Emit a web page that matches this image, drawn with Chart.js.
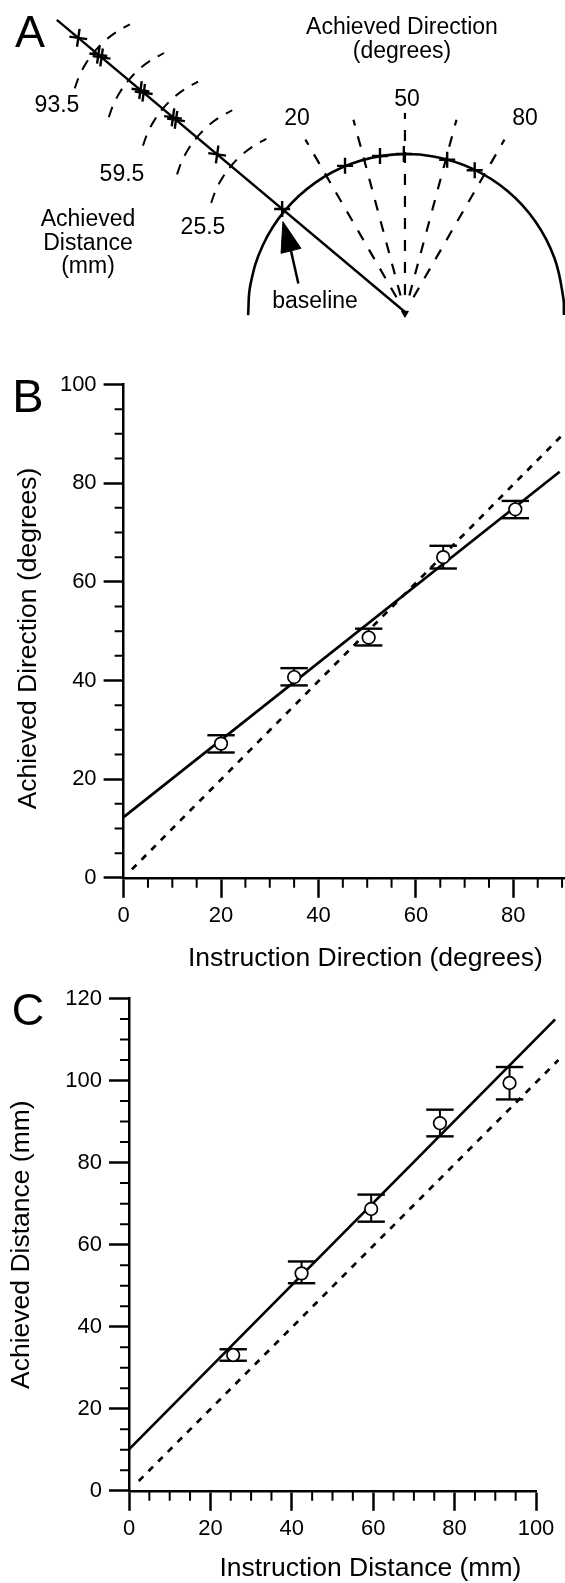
<!DOCTYPE html>
<html lang="en">
<head>
<meta charset="UTF-8">
<title>Achieved direction and distance</title>
<style>
    html, body { margin: 0; padding: 0; background: #fff; }
    body { position: relative; width: 565px; height: 1583px; overflow: hidden; font-family: "Liberation Sans", Arial, sans-serif; color: #000; }
    canvas { position: absolute; left: 0; }
    #chartA { top: 0; }
    #chartB { top: 345px; }
    #chartC { top: 975px; }
    .lab { position: absolute; transform: translate(-50%, -50%); white-space: nowrap; font-size: 23px; line-height: 1; text-align: center; z-index: 2; }
    .panel { font-size: 45px; }
</style>
</head>
<body>
<canvas id="chartA" width="565" height="345"></canvas>
<canvas id="chartB" width="565" height="635"></canvas>
<canvas id="chartC" width="565" height="608"></canvas>

<div class="lab panel" style="left:30px;top:31px">A</div>
<div class="lab panel" style="left:28px;top:395px;font-size:47px">B</div>
<div class="lab panel" style="left:28px;top:1009px">C</div>

<div class="lab" style="left:402px;top:26px">Achieved Direction</div>
<div class="lab" style="left:402px;top:50px">(degrees)</div>
<div class="lab" style="left:297px;top:117px">20</div>
<div class="lab" style="left:407px;top:98px">50</div>
<div class="lab" style="left:525px;top:117px">80</div>
<div class="lab" style="left:57px;top:104px">93.5</div>
<div class="lab" style="left:122px;top:173px">59.5</div>
<div class="lab" style="left:203px;top:226px">25.5</div>
<div class="lab" style="left:88px;top:218px">Achieved</div>
<div class="lab" style="left:88px;top:242px">Distance</div>
<div class="lab" style="left:88px;top:265px">(mm)</div>
<div class="lab" style="left:315px;top:300px">baseline</div>

<script src="https://cdn.jsdelivr.net/npm/chart.js"></script>
<script>
    // Panel B data (degrees)
    const dirInstruction = [20, 35, 50.3, 65.6, 80.4];
    const dirAchieved = [27.2, 40.7, 48.7, 65, 74.7];
    const dirErrHigh = [28.9, 42.5, 50.5, 67.3, 76.4];
    const dirErrLow = [25.4, 39, 47.1, 62.7, 72.9];
    const dirFitX = [0, 89.5];
    const dirFitY = [12.3, 82.3];
    const dirUnityX = [1.7, 89.7];
    const dirUnityY = [1.7, 89.4];
    const dirTicksMinorX = [5, 10, 15, 25, 30, 35, 45, 50, 55, 65, 70, 75, 85, 90];
    const dirTicksMinorY = [5, 10, 15, 25, 30, 35, 45, 50, 55, 65, 70, 75, 85, 90, 95];

    // Panel C data (mm)
    const distInstruction = [25.6, 42.4, 59.5, 76.4, 93.5];
    const distAchieved = [33.1, 53, 68.7, 89.6, 99.4];
    const distErrHigh = [34.5, 55.9, 72.2, 92.9, 103.3];
    const distErrLow = [31.7, 50.6, 65.6, 86.4, 95.4];
    const distFitX = [0, 104.7];
    const distFitY = [10.1, 114.9];
    const distUnityX = [2.4, 105.5];
    const distUnityY = [2.4, 105];
    const distTicksMinorX = [5, 10, 15, 25, 30, 35, 45, 50, 55, 65, 70, 75, 85, 90, 95];
    const distTicksMinorY = [5, 10, 15, 25, 30, 35, 45, 50, 55, 65, 70, 75, 85, 90, 95, 105, 110, 115];

    // Panel A data: angles from the vertical through the tip, lengths in mm from the tip
    const armAngle = -50;
    const armLength = 173.5;
    const baselineDistance = 61.2;
    const armCrossDistances = [32.4, 52.9, 54.4, 69, 70.6, 90, 91.6, 101.6];
    const distanceArcs = [25.5, 42.5, 59.5, 76.5, 93.5];
    const distanceArcRadius = 39.3;
    const distanceArcAngles = [-23.5, -16, -8, 0, 8, 16, 25];
    const rayAngles = [-30, -15, 0, 15, 30];
    const rayStart = 6.5;
    const rayEnd = 76;
    const directionCrosses = [-22.3, -9.1, -0.4, 15.5, 26.2];
    const bigArcRadius = 60.3;
    const bigArcAngles = [-91.1, -80, -65, -50, -35, -20, -5, 10, 25, 40, 55, 70, 85, 91.1];
    const arrowHeadX = [-46.6, -47.3, -39.7, -46.6];
    const arrowHeadY = [34.5, 22.4, 24.3, 34.5];
    const arrowTailX = [-43.5, -40.7];
    const arrowTailY = [23.3, 10.9];

    const fontFamily = '"Liberation Sans", Arial, sans-serif';

    function pairs(xs, ys) {
        return xs.map((x, i) => ({ x: x, y: ys[i] }));
    }

    function polar(angle, r, cx, cy) {
        const a = angle * Math.PI / 180;
        return { x: (cx || 0) + r * Math.sin(a), y: (cy || 0) + r * Math.cos(a) };
    }

    function lineSet(data, width, dash, extra) {
        return Object.assign({
            data: data,
            showLine: true,
            borderColor: '#000',
            borderWidth: width,
            borderDash: dash || [],
            pointRadius: 0,
            clip: false
        }, extra || {});
    }

    function crossSet(data, radius, rotation) {
        return {
            data: data,
            showLine: false,
            pointStyle: 'cross',
            pointRadius: radius,
            pointRotation: rotation,
            pointBorderColor: '#000',
            pointBorderWidth: 2.4,
            clip: false
        };
    }

    // minor ticks sit on the real scales, they just need a shorter length
    const minorTicks = {
        id: 'minorTicks',
        afterDraw(chart, args, opts) {
            const ctx = chart.ctx;
            const area = chart.chartArea;
            ctx.save();
            ctx.strokeStyle = '#000';
            ctx.lineWidth = 2;
            ctx.beginPath();
            opts.x.forEach(v => {
                const px = chart.scales.x.getPixelForValue(v);
                ctx.moveTo(px, area.bottom);
                ctx.lineTo(px, area.bottom + 10);
            });
            opts.y.forEach(v => {
                const py = chart.scales.y.getPixelForValue(v);
                ctx.moveTo(area.left, py);
                ctx.lineTo(area.left - 9, py);
            });
            ctx.stroke();
            ctx.restore();
        }
    };

    // Panel A
    const armData = [polar(armAngle, 0), polar(armAngle, armLength)];
    const arcSets = distanceArcs.map(d => {
        const center = polar(armAngle, baselineDistance + d - distanceArcRadius);
        const pts = distanceArcAngles.map(a => polar(armAngle + a, distanceArcRadius, center.x, center.y));
        return lineSet(pts, 2, [11, 9], { tension: 0.4 });
    });
    const raySets = rayAngles.map(a => lineSet([polar(a, rayStart), polar(a, rayEnd)], 2.2, [11, 11]));

    new Chart(document.getElementById('chartA'), {
        type: 'scatter',
        data: {
            datasets: [
                crossSet(armCrossDistances.map(d => polar(armAngle, baselineDistance + d)), 9, 8),
                crossSet([polar(armAngle, baselineDistance)], 8, 0),
                crossSet(directionCrosses.map(a => polar(a, bigArcRadius)), 8, 0),
                {
                    data: [{ x: 0, y: -0.5 }],
                    showLine: false,
                    pointStyle: 'triangle',
                    pointRotation: 180,
                    pointRadius: 4,
                    pointBackgroundColor: '#000',
                    pointBorderColor: '#000',
                    clip: false
                },
                lineSet(pairs(arrowHeadX, arrowHeadY), 1, [], { fill: 'shape', backgroundColor: '#000' }),
                lineSet(pairs(arrowTailX, arrowTailY), 2.5),
                lineSet(armData, 2.4),
                lineSet(bigArcAngles.map(a => polar(a, bigArcRadius, 0.4, 0)), 2.6, [], { tension: 0.4 })
            ].concat(arcSets, raySets)
        },
        options: {
            responsive: false,
            animation: false,
            layout: { padding: 0, autoPadding: false },
            plugins: { legend: { display: false }, tooltip: { enabled: false } },
            scales: {
                x: { type: 'linear', display: false, min: -154.6, max: 61.1 },
                y: { type: 'linear', display: false, min: -12.6, max: 119.1 }
            }
        }
    });

    // Panels B and C share a layout
    function xyPanel(id, p) {
        const stems = p.instruction.map((x, i) =>
            lineSet([{ x: x, y: p.errLow[i] }, { x: x, y: p.errHigh[i] }], 2));
        const caps = {
            data: pairs(p.instruction, p.errHigh).concat(pairs(p.instruction, p.errLow)),
            showLine: false,
            pointStyle: 'line',
            pointRadius: 13.7,
            pointBorderColor: '#000',
            pointBorderWidth: 2.4,
            clip: false
        };
        const means = {
            data: pairs(p.instruction, p.achieved),
            showLine: false,
            pointStyle: 'circle',
            pointRadius: 6.3,
            pointBackgroundColor: '#fff',
            pointBorderColor: '#000',
            pointBorderWidth: 1.7,
            clip: false
        };
        const tickFont = { family: fontFamily, size: 22 };
        const titleFont = { family: fontFamily, size: 26.5 };
        return new Chart(document.getElementById(id), {
            type: 'scatter',
            data: {
                datasets: [means, caps].concat(stems, [
                    lineSet(pairs(p.fitX, p.fitY), 2.7),
                    lineSet(pairs(p.unityX, p.unityY), 2.7, [6.5, 7.2])
                ])
            },
            options: {
                responsive: false,
                animation: false,
                layout: { padding: { top: p.padTop, right: p.padRight, left: 0, bottom: 0 }, autoPadding: false },
                plugins: {
                    legend: { display: false },
                    tooltip: { enabled: false },
                    minorTicks: { x: p.minorX, y: p.minorY }
                },
                scales: {
                    x: {
                        type: 'linear',
                        min: 0,
                        max: p.xMax,
                        afterFit(scale) { scale.height = p.xAxisHeight; },
                        border: { color: '#000', width: 2.5 },
                        grid: { drawOnChartArea: false, tickLength: 20, tickColor: '#000', tickWidth: 2.5 },
                        ticks: { stepSize: 20, includeBounds: false, maxRotation: 0, color: '#000', font: tickFont, padding: 5 },
                        title: {
                            display: true,
                            text: p.xTitle,
                            align: 'end',
                            color: '#000',
                            font: titleFont,
                            padding: { top: 0, bottom: p.xTitlePad }
                        }
                    },
                    y: {
                        type: 'linear',
                        min: 0,
                        max: p.yMax,
                        afterFit(scale) { scale.width = p.yAxisWidth; },
                        border: { color: '#000', width: 2.5 },
                        grid: { drawOnChartArea: false, tickLength: 20, tickColor: '#000', tickWidth: 2.5 },
                        ticks: { stepSize: 20, color: '#000', font: tickFont, padding: 7 },
                        title: {
                            display: true,
                            text: p.yTitle,
                            color: '#000',
                            font: titleFont,
                            padding: { top: p.yTitlePad, bottom: 0 }
                        }
                    }
                }
            },
            plugins: [minorTicks]
        });
    }

    xyPanel('chartB', {
        instruction: dirInstruction, achieved: dirAchieved, errHigh: dirErrHigh, errLow: dirErrLow,
        fitX: dirFitX, fitY: dirFitY, unityX: dirUnityX, unityY: dirUnityY,
        minorX: dirTicksMinorX, minorY: dirTicksMinorY,
        xMax: 90.6, yMax: 100,
        padTop: 39.5, padRight: 0, xAxisHeight: 102.2, yAxisWidth: 123.6,
        xTitle: 'Instruction Direction (degrees)\u00a0\u00a0\u00a0',
        yTitle: 'Achieved Direction (degrees)\u00a0\u00a0',
        xTitlePad: 5.5, yTitlePad: 13
    });

    xyPanel('chartC', {
        instruction: distInstruction, achieved: distAchieved, errHigh: distErrHigh, errLow: distErrLow,
        fitX: distFitX, fitY: distFitY, unityX: distUnityX, unityY: distUnityY,
        minorX: distTicksMinorX, minorY: distTicksMinorY,
        xMax: 100, yMax: 120,
        padTop: 23.5, padRight: 29, xAxisHeight: 92.2, yAxisWidth: 129,
        xTitle: 'Instruction Distance (mm)\u00a0\u00a0',
        yTitle: 'Achieved Distance (mm)',
        xTitlePad: -1.5, yTitlePad: 5.7
    });
</script>
</body>
</html>
